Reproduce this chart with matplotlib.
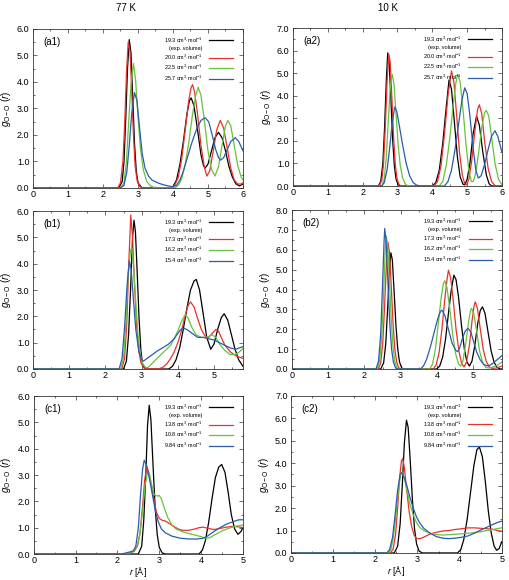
import matplotlib
matplotlib.use("Agg")
import matplotlib.pyplot as plt
from matplotlib.lines import Line2D
from matplotlib.ticker import MultipleLocator, FormatStrFormatter

plt.rcParams['font.family'] = ['Liberation Sans', 'DejaVu Sans']
plt.rcParams['mathtext.fontset'] = 'custom'
plt.rcParams['mathtext.rm'] = 'Liberation Sans'
plt.rcParams['mathtext.it'] = 'Liberation Sans:italic'

# g_OO(r) curves, (r [A], g) pairs
# (a1) 77 K, expanded volumes
a1_193 = [(0, 0), (2.45, 0), (2.55, 0.25), (2.6, 1.0), (2.65, 2.6), (2.7, 4.5), (2.75, 5.6), (2.8, 5.1),
          (2.85, 3.4), (2.9, 1.7), (2.95, 0.65), (3.0, 0.2), (3.1, 0.02), (3.2, 0), (3.9, 0), (4.0, 0.05),
          (4.1, 0.3), (4.2, 0.9), (4.3, 1.8), (4.4, 2.8), (4.47, 3.3), (4.52, 3.4), (4.6, 3.1), (4.7, 2.2),
          (4.8, 1.25), (4.87, 0.85), (4.92, 0.75), (5.0, 0.9), (5.1, 1.4), (5.2, 1.9), (5.3, 2.1), (5.4, 1.9),
          (5.5, 1.4), (5.6, 0.8), (5.7, 0.4), (5.8, 0.15), (5.9, 0.08), (6.0, 0.15)]
a1_200 = [(0, 0), (2.42, 0), (2.5, 0.2), (2.57, 1.0), (2.62, 2.4), (2.67, 4.3), (2.72, 5.5), (2.77, 5.2),
          (2.82, 3.7), (2.87, 2.0), (2.92, 0.8), (2.98, 0.25), (3.05, 0.05), (3.15, 0), (3.95, 0), (4.05, 0.1),
          (4.15, 0.4), (4.25, 1.1), (4.35, 2.2), (4.45, 3.3), (4.52, 3.8), (4.56, 3.9), (4.62, 3.6), (4.7, 2.8),
          (4.8, 1.6), (4.9, 0.75), (4.97, 0.45), (5.05, 0.65), (5.15, 1.4), (5.25, 2.2), (5.35, 2.55),
          (5.45, 2.25), (5.55, 1.5), (5.65, 0.75), (5.75, 0.3), (5.85, 0.15), (5.95, 0.15), (6.0, 0.2)]
a1_225 = [(0, 0), (2.5, 0), (2.6, 0.2), (2.67, 1.0), (2.73, 2.4), (2.8, 3.9), (2.87, 4.7), (2.93, 4.1),
          (3.0, 2.7), (3.07, 1.5), (3.15, 0.7), (3.25, 0.25), (3.35, 0.08), (3.5, 0), (4.05, 0), (4.15, 0.1),
          (4.25, 0.35), (4.35, 0.9), (4.45, 1.7), (4.55, 2.7), (4.65, 3.5), (4.72, 3.8), (4.8, 3.5), (4.9, 2.5),
          (5.0, 1.4), (5.1, 0.7), (5.2, 0.45), (5.3, 0.8), (5.4, 1.6), (5.5, 2.35), (5.57, 2.55), (5.65, 2.35),
          (5.75, 1.6), (5.85, 0.85), (5.95, 0.4), (6.0, 0.3)]
a1_257 = [(0, 0), (2.5, 0), (2.6, 0.1), (2.68, 0.6), (2.75, 1.6), (2.82, 2.8), (2.9, 3.6), (2.97, 3.3),
          (3.05, 2.2), (3.12, 1.3), (3.2, 0.75), (3.3, 0.45), (3.4, 0.3), (3.55, 0.2), (3.7, 0.13), (3.85, 0.08),
          (4.0, 0.05), (4.1, 0.1), (4.2, 0.3), (4.3, 0.65), (4.4, 1.1), (4.5, 1.55), (4.6, 1.95), (4.7, 2.3),
          (4.8, 2.55), (4.92, 2.65), (5.02, 2.5), (5.12, 2.0), (5.22, 1.45), (5.3, 1.15), (5.36, 1.05),
          (5.45, 1.15), (5.55, 1.45), (5.65, 1.75), (5.78, 1.9), (5.88, 1.75), (6.0, 1.4)]

# (a2) 10 K, expanded volumes
a2_193 = [(0, 0), (2.45, 0), (2.52, 0.2), (2.58, 1.0), (2.63, 2.6), (2.68, 4.7), (2.72, 5.9), (2.76, 5.5),
          (2.81, 3.9), (2.86, 2.1), (2.91, 0.9), (2.96, 0.3), (3.02, 0.05), (3.1, 0), (4.0, 0), (4.1, 0.15),
          (4.2, 0.7), (4.3, 1.9), (4.4, 3.5), (4.48, 4.7), (4.55, 4.3), (4.63, 2.9), (4.72, 1.3), (4.8, 0.4),
          (4.88, 0.08), (4.93, 0.05), (5.0, 0.3), (5.08, 1.0), (5.17, 2.3), (5.27, 3.1), (5.35, 2.7),
          (5.45, 1.5), (5.55, 0.5), (5.63, 0.1), (5.7, 0), (6.0, 0)]
a2_200 = [(0, 0), (2.47, 0), (2.55, 0.25), (2.6, 1.0), (2.65, 2.6), (2.7, 4.6), (2.75, 5.85), (2.79, 5.5),
          (2.84, 3.9), (2.89, 2.1), (2.94, 0.9), (2.99, 0.3), (3.05, 0.05), (3.12, 0), (4.05, 0), (4.15, 0.2),
          (4.25, 0.9), (4.35, 2.3), (4.45, 4.0), (4.55, 5.1), (4.62, 4.6), (4.7, 3.1), (4.78, 1.5), (4.86, 0.5),
          (4.93, 0.1), (4.98, 0.05), (5.05, 0.3), (5.13, 1.1), (5.22, 2.4), (5.3, 3.4), (5.35, 3.6), (5.42, 3.2),
          (5.5, 2.0), (5.6, 0.8), (5.7, 0.2), (5.8, 0.02), (6.0, 0)]
a2_225 = [(0, 0), (2.55, 0), (2.62, 0.3), (2.68, 1.3), (2.74, 3.0), (2.8, 4.5), (2.85, 4.95), (2.9, 4.5),
          (2.96, 3.2), (3.02, 1.8), (3.08, 0.9), (3.15, 0.35), (3.22, 0.1), (3.3, 0), (4.2, 0), (4.3, 0.2),
          (4.4, 0.9), (4.5, 2.1), (4.6, 3.6), (4.68, 4.6), (4.73, 4.95), (4.8, 4.6), (4.88, 3.4), (4.97, 1.8),
          (5.05, 0.7), (5.12, 0.2), (5.18, 0.2), (5.25, 0.6), (5.33, 1.5), (5.42, 2.6), (5.5, 3.25), (5.55, 3.35),
          (5.62, 3.1), (5.7, 2.2), (5.8, 1.0), (5.9, 0.3), (6.0, 0.05)]
a2_257 = [(0, 0), (2.55, 0), (2.62, 0.15), (2.7, 0.7), (2.77, 1.6), (2.85, 2.8), (2.92, 3.5), (2.98, 3.3),
          (3.05, 2.7), (3.15, 1.8), (3.25, 1.0), (3.35, 0.45), (3.45, 0.15), (3.55, 0.04), (3.65, 0), (4.35, 0),
          (4.45, 0.2), (4.55, 0.7), (4.65, 1.6), (4.75, 2.7), (4.85, 3.8), (4.93, 4.35), (5.0, 4.1), (5.08, 3.1),
          (5.17, 1.7), (5.25, 0.7), (5.32, 0.35), (5.4, 0.45), (5.5, 0.95), (5.6, 1.6), (5.7, 2.2), (5.8, 2.45),
          (5.88, 2.2), (6.0, 1.5)]

# (b1) 77 K, compressed volumes
b1_193 = [(0, 0), (2.5, 0), (2.58, 0.3), (2.64, 1.3), (2.7, 3.2), (2.75, 5.0), (2.79, 5.65), (2.83, 5.2),
          (2.88, 3.6), (2.93, 1.9), (2.98, 0.7), (3.03, 0.15), (3.1, 0), (3.75, 0), (3.85, 0.1), (3.95, 0.35),
          (4.05, 0.8), (4.15, 1.5), (4.25, 2.3), (4.35, 3.0), (4.45, 3.35), (4.51, 3.4), (4.6, 3.0), (4.7, 2.1),
          (4.8, 1.2), (4.91, 0.75), (5.0, 0.95), (5.1, 1.5), (5.2, 1.95), (5.28, 2.1), (5.38, 1.85), (5.48, 1.3),
          (5.58, 0.75), (5.68, 0.35), (5.8, 0.1)]
b1_173 = [(0, 0), (2.45, 0), (2.53, 0.4), (2.59, 1.7), (2.64, 3.8), (2.7, 5.85), (2.75, 5.0), (2.8, 3.3),
          (2.86, 1.7), (2.92, 0.7), (2.98, 0.25), (3.05, 0.05), (3.15, 0), (3.5, 0), (3.6, 0.08), (3.7, 0.2),
          (3.8, 0.4), (3.9, 0.65), (4.0, 1.0), (4.1, 1.45), (4.2, 2.0), (4.28, 2.4), (4.35, 2.55), (4.45, 2.35),
          (4.55, 1.9), (4.65, 1.5), (4.75, 1.25), (4.85, 1.2), (4.95, 1.35), (5.05, 1.5), (5.12, 1.45),
          (5.2, 1.2), (5.3, 0.9), (5.45, 0.65), (5.6, 0.5), (5.8, 0.4)]
b1_162 = [(0, 0), (2.42, 0), (2.5, 0.4), (2.57, 1.8), (2.63, 3.6), (2.69, 4.5), (2.73, 4.6), (2.78, 3.9),
          (2.84, 2.5), (2.9, 1.3), (2.96, 0.6), (3.03, 0.2), (3.1, 0.07), (3.17, 0.05), (3.25, 0.15), (3.35, 0.3),
          (3.5, 0.5), (3.65, 0.7), (3.8, 0.9), (3.9, 1.15), (4.0, 1.45), (4.1, 1.8), (4.2, 2.05), (4.28, 1.95),
          (4.38, 1.6), (4.5, 1.3), (4.65, 1.2), (4.8, 1.2), (4.95, 1.3), (5.05, 1.2), (5.15, 0.95), (5.3, 0.7),
          (5.45, 0.55), (5.6, 0.55), (5.7, 0.65), (5.8, 0.78)]
b1_154 = [(0, 0), (2.38, 0), (2.46, 0.4), (2.53, 1.6), (2.6, 3.2), (2.66, 4.1), (2.71, 3.8), (2.77, 2.7),
          (2.84, 1.5), (2.92, 0.7), (3.0, 0.35), (3.05, 0.3), (3.15, 0.4), (3.3, 0.55), (3.45, 0.7), (3.6, 0.82),
          (3.75, 0.95), (3.9, 1.15), (4.0, 1.35), (4.08, 1.5), (4.15, 1.55), (4.25, 1.5), (4.4, 1.35),
          (4.55, 1.2), (4.7, 1.2), (4.85, 1.15), (5.0, 1.1), (5.15, 1.0), (5.3, 0.9), (5.45, 0.8), (5.6, 0.75),
          (5.7, 0.8), (5.8, 0.85)]

# (b2) 10 K, compressed volumes
b2_193 = [(0, 0), (2.45, 0), (2.53, 0.3), (2.59, 1.3), (2.64, 3.0), (2.69, 4.9), (2.73, 5.85), (2.77, 5.5),
          (2.82, 3.9), (2.87, 2.2), (2.92, 1.0), (2.97, 0.35), (3.03, 0.05), (3.1, 0), (4.0, 0), (4.08, 0.15),
          (4.16, 0.6), (4.24, 1.5), (4.32, 2.8), (4.4, 4.0), (4.47, 4.72), (4.53, 4.5), (4.6, 3.6), (4.68, 2.2),
          (4.76, 1.0), (4.83, 0.35), (4.9, 0.15), (4.97, 0.4), (5.05, 1.2), (5.13, 2.3), (5.2, 2.95),
          (5.26, 3.13), (5.33, 2.8), (5.41, 1.9), (5.5, 0.9), (5.58, 0.35), (5.66, 0.08), (5.75, 0), (5.8, 0)]
b2_173 = [(0, 0), (2.38, 0), (2.45, 0.3), (2.51, 1.4), (2.56, 3.3), (2.61, 5.4), (2.65, 6.37), (2.69, 5.9),
          (2.74, 4.2), (2.79, 2.3), (2.84, 1.0), (2.89, 0.35), (2.95, 0.05), (3.02, 0), (3.9, 0), (3.98, 0.2),
          (4.06, 0.8), (4.14, 2.0), (4.22, 3.5), (4.28, 4.5), (4.32, 4.97), (4.38, 4.6), (4.45, 3.5), (4.53, 2.0),
          (4.61, 0.9), (4.68, 0.3), (4.75, 0.1), (4.82, 0.35), (4.9, 1.2), (4.97, 2.4), (5.03, 3.2), (5.06, 3.38),
          (5.12, 3.05), (5.2, 2.0), (5.28, 1.0), (5.36, 0.4), (5.45, 0.1), (5.55, 0.03), (5.65, 0.05),
          (5.8, 0.15)]
b2_162 = [(0, 0), (2.35, 0), (2.42, 0.4), (2.48, 1.7), (2.53, 3.8), (2.57, 5.8), (2.6, 6.7), (2.64, 6.3),
          (2.69, 4.5), (2.74, 2.5), (2.79, 1.1), (2.84, 0.35), (2.9, 0.05), (2.97, 0), (3.8, 0), (3.88, 0.25),
          (3.96, 1.0), (4.04, 2.3), (4.12, 3.6), (4.18, 4.3), (4.22, 4.44), (4.28, 4.1), (4.36, 3.0), (4.44, 1.7),
          (4.52, 0.75), (4.6, 0.25), (4.66, 0.15), (4.72, 0.4), (4.8, 1.3), (4.87, 2.3), (4.93, 2.95),
          (4.96, 3.05), (5.02, 2.8), (5.1, 1.9), (5.18, 0.9), (5.27, 0.3), (5.36, 0.07), (5.45, 0.05),
          (5.55, 0.1), (5.68, 0.2), (5.8, 0.35)]
b2_154 = [(0, 0), (2.32, 0), (2.39, 0.4), (2.45, 1.8), (2.5, 4.2), (2.54, 6.3), (2.56, 7.07), (2.6, 6.4),
          (2.65, 4.3), (2.7, 2.3), (2.75, 1.0), (2.8, 0.35), (2.86, 0.05), (2.93, 0), (3.55, 0), (3.63, 0.15),
          (3.72, 0.5), (3.82, 1.1), (3.92, 1.8), (4.02, 2.5), (4.1, 2.9), (4.14, 2.96), (4.22, 2.7), (4.32, 2.0),
          (4.42, 1.3), (4.52, 0.95), (4.57, 0.87), (4.63, 1.05), (4.7, 1.5), (4.78, 1.9), (4.86, 2.05),
          (4.94, 1.85), (5.02, 1.35), (5.1, 0.85), (5.2, 0.45), (5.3, 0.22), (5.42, 0.15), (5.52, 0.25),
          (5.62, 0.4), (5.72, 0.55), (5.8, 0.68)]

# (c1) 77 K, strongly compressed
c1_193 = [(0, 0), (2.5, 0), (2.58, 0.3), (2.63, 1.3), (2.68, 3.1), (2.72, 4.9), (2.76, 5.65), (2.8, 5.1),
          (2.85, 3.4), (2.9, 1.8), (2.95, 0.75), (3.0, 0.25), (3.07, 0.04), (3.15, 0), (3.95, 0), (4.03, 0.15),
          (4.1, 0.5), (4.18, 1.2), (4.26, 2.1), (4.34, 2.9), (4.42, 3.3), (4.49, 3.4), (4.57, 3.1), (4.65, 2.3),
          (4.72, 1.5), (4.8, 0.95), (4.88, 0.75), (4.95, 0.85), (5.0, 1.0)]
c1_138 = [(0, 0), (2.2, 0), (2.3, 0.03), (2.4, 0.1), (2.48, 0.3), (2.54, 0.8), (2.6, 1.8), (2.65, 2.8),
          (2.7, 3.3), (2.75, 3.1), (2.8, 2.7), (2.87, 2.1), (2.93, 1.6), (3.0, 1.35), (3.07, 1.28), (3.15, 1.25),
          (3.25, 1.15), (3.35, 1.05), (3.45, 0.95), (3.55, 0.9), (3.7, 0.9), (3.85, 0.95), (3.95, 1.0),
          (4.05, 1.02), (4.15, 0.98), (4.3, 0.93), (4.45, 0.97), (4.6, 1.02), (4.75, 1.05), (4.9, 1.03),
          (5.0, 1.0)]
c1_108 = [(0, 0), (2.15, 0), (2.3, 0.05), (2.4, 0.12), (2.47, 0.3), (2.53, 0.7), (2.6, 1.6), (2.66, 2.6),
          (2.72, 3.1), (2.77, 3.0), (2.82, 2.6), (2.88, 2.25), (2.95, 2.2), (3.0, 2.22), (3.05, 2.1),
          (3.12, 1.75), (3.2, 1.4), (3.3, 1.1), (3.4, 0.95), (3.55, 0.85), (3.7, 0.78), (3.85, 0.72), (4.0, 0.66),
          (4.1, 0.6), (4.2, 0.62), (4.35, 0.75), (4.5, 0.88), (4.65, 0.97), (4.8, 1.05), (5.0, 1.1)]
c1_984 = [(0, 0), (2.1, 0), (2.2, 0.04), (2.3, 0.08), (2.38, 0.12), (2.44, 0.3), (2.5, 1.0), (2.55, 2.2),
          (2.6, 3.2), (2.64, 3.56), (2.7, 3.35), (2.76, 2.9), (2.83, 2.3), (2.9, 1.7), (2.97, 1.25), (3.05, 0.95),
          (3.15, 0.8), (3.3, 0.68), (3.5, 0.6), (3.7, 0.57), (3.9, 0.57), (4.05, 0.6), (4.15, 0.68), (4.3, 0.85),
          (4.45, 1.0), (4.6, 1.13), (4.75, 1.22), (4.9, 1.3), (5.0, 1.3)]

# (c2) 10 K, strongly compressed
c2_193 = [(0, 0), (2.45, 0), (2.53, 0.3), (2.59, 1.3), (2.64, 3.0), (2.69, 4.9), (2.74, 5.92), (2.78, 5.6),
          (2.83, 4.1), (2.88, 2.4), (2.93, 1.1), (2.98, 0.4), (3.04, 0.08), (3.12, 0), (3.95, 0), (4.03, 0.15),
          (4.1, 0.6), (4.18, 1.5), (4.26, 2.7), (4.34, 3.9), (4.41, 4.6), (4.47, 4.73), (4.54, 4.3), (4.61, 3.2),
          (4.68, 1.9), (4.75, 0.9), (4.82, 0.3), (4.88, 0.12), (4.94, 0.2), (5.0, 0.5)]
c2_138 = [(0, 0), (2.35, 0), (2.42, 0.15), (2.48, 0.8), (2.53, 2.0), (2.58, 3.4), (2.62, 4.1), (2.65, 4.21),
          (2.69, 3.8), (2.74, 2.9), (2.8, 1.9), (2.86, 1.2), (2.92, 0.8), (2.97, 0.66), (3.03, 0.63), (3.1, 0.66),
          (3.2, 0.75), (3.3, 0.85), (3.45, 0.92), (3.6, 0.98), (3.75, 1.0), (3.9, 1.05), (4.05, 1.08),
          (4.2, 1.12), (4.35, 1.12), (4.5, 1.1), (4.65, 1.08), (4.8, 1.05), (4.9, 1.0), (5.0, 0.97)]
c2_108 = [(0, 0), (2.3, 0), (2.37, 0.15), (2.43, 0.7), (2.49, 1.7), (2.55, 2.8), (2.6, 3.5), (2.64, 3.6),
          (2.69, 3.3), (2.75, 2.8), (2.82, 2.2), (2.9, 1.7), (2.98, 1.35), (3.05, 1.15), (3.15, 1.0), (3.3, 0.88),
          (3.45, 0.82), (3.6, 0.8), (3.8, 0.82), (4.0, 0.85), (4.2, 0.88), (4.4, 0.92), (4.6, 0.98), (4.8, 1.05),
          (5.0, 1.12)]
c2_984 = [(0, 0), (2.27, 0), (2.34, 0.15), (2.41, 0.7), (2.47, 1.7), (2.53, 2.8), (2.59, 3.5), (2.63, 3.58),
          (2.68, 3.4), (2.75, 3.0), (2.82, 2.5), (2.9, 2.0), (2.98, 1.6), (3.05, 1.35), (3.15, 1.1), (3.3, 0.88),
          (3.45, 0.73), (3.6, 0.66), (3.75, 0.64), (3.9, 0.66), (4.05, 0.7), (4.2, 0.76), (4.35, 0.88),
          (4.5, 1.02), (4.65, 1.15), (4.8, 1.28), (4.9, 1.36), (5.0, 1.42)]

volumes_a = ["19.3", "20.0", "22.5", "25.7"]
volumes_b = ["19.3", "17.3", "16.2", "15.4"]
volumes_c = ["19.3", "13.8", "10.8", "9.84"]

colors = ["black", "#e8312a", "#66c23e", "#2a5cad"]


def draw_panel(ax, curves, volumes, tag, xmax, ymax):
    handles = []
    for pts, vol, c in zip(curves, volumes, colors):
        r = [p[0] for p in pts]
        g = [p[1] for p in pts]
        line, = ax.plot(r, g, color=c, lw=0.9,
                        label=vol + r" cm$^3$$\cdot$mol$^{-1}$")
        handles.append(line)
    # second legend line under the first entry
    dummy = Line2D([], [], color='none', label="(exp. volume)")
    handles.insert(1, dummy)
    ax.legend(handles=handles, loc='upper right', bbox_to_anchor=(0.97, 0.985),
              frameon=False, markerfirst=False, fontsize=4, handlelength=4.2,
              labelspacing=0.25, handletextpad=1.2, borderpad=0.2)

    ax.set_xlim(0, xmax)
    ax.set_ylim(0, ymax)
    ax.xaxis.set_major_locator(MultipleLocator(1))
    ax.xaxis.set_minor_locator(MultipleLocator(0.5))
    ax.yaxis.set_major_locator(MultipleLocator(1))
    ax.yaxis.set_minor_locator(MultipleLocator(0.5))
    ax.yaxis.set_major_formatter(FormatStrFormatter('%.1f'))
    ax.tick_params(which='both', direction='in', top=True, right=True,
                   labelsize=6.5, width=0.5, color='#333333', pad=2.5)
    ax.tick_params(axis='x', pad=1.5)
    ax.tick_params(which='major', length=3)
    ax.tick_params(which='minor', length=1.5)
    for s in ax.spines.values():
        s.set_linewidth(0.6)
        s.set_color('#333333')
    ax.set_ylabel(r"$g_{\rm O-O}$ ($r$)", fontsize=7, labelpad=3)
    ax.text(0.05, 0.92, tag, transform=ax.transAxes, fontsize=7, va='center')


fig = plt.figure(figsize=(5.09, 5.80), dpi=100)

ax_a1 = fig.add_axes([0.0648, 0.6759, 0.4126, 0.2741])
ax_a2 = fig.add_axes([0.5756, 0.6793, 0.4106, 0.2724])
ax_b1 = fig.add_axes([0.0648, 0.3638, 0.4126, 0.2724])
ax_b2 = fig.add_axes([0.5737, 0.3638, 0.4126, 0.2741])
ax_c1 = fig.add_axes([0.0662, 0.0448, 0.4112, 0.2724])
ax_c2 = fig.add_axes([0.5717, 0.0466, 0.4140, 0.2707])

draw_panel(ax_a1, [a1_193, a1_200, a1_225, a1_257], volumes_a, "(a1)", 6, 6)
draw_panel(ax_a2, [a2_193, a2_200, a2_225, a2_257], volumes_a, "(a2)", 6, 7)
draw_panel(ax_b1, [b1_193, b1_173, b1_162, b1_154], volumes_b, "(b1)", 5.8, 6)
draw_panel(ax_b2, [b2_193, b2_173, b2_162, b2_154], volumes_b, "(b2)", 5.8, 8)
draw_panel(ax_c1, [c1_193, c1_138, c1_108, c1_984], volumes_c, "(c1)", 5, 6)
draw_panel(ax_c2, [c2_193, c2_138, c2_108, c2_984], volumes_c, "(c2)", 5, 7)

ax_c1.set_xlabel(r"$r$ [Å]", fontsize=6.5, labelpad=0)
ax_c2.set_xlabel(r"$r$ [Å]", fontsize=6.5, labelpad=0)

fig.text(126 / 509, 1 - 8 / 580, "77 K", ha='center', va='center', fontsize=7)
fig.text(388 / 509, 1 - 8 / 580, "10 K", ha='center', va='center', fontsize=7)

fig.savefig("out.png", dpi=100)
